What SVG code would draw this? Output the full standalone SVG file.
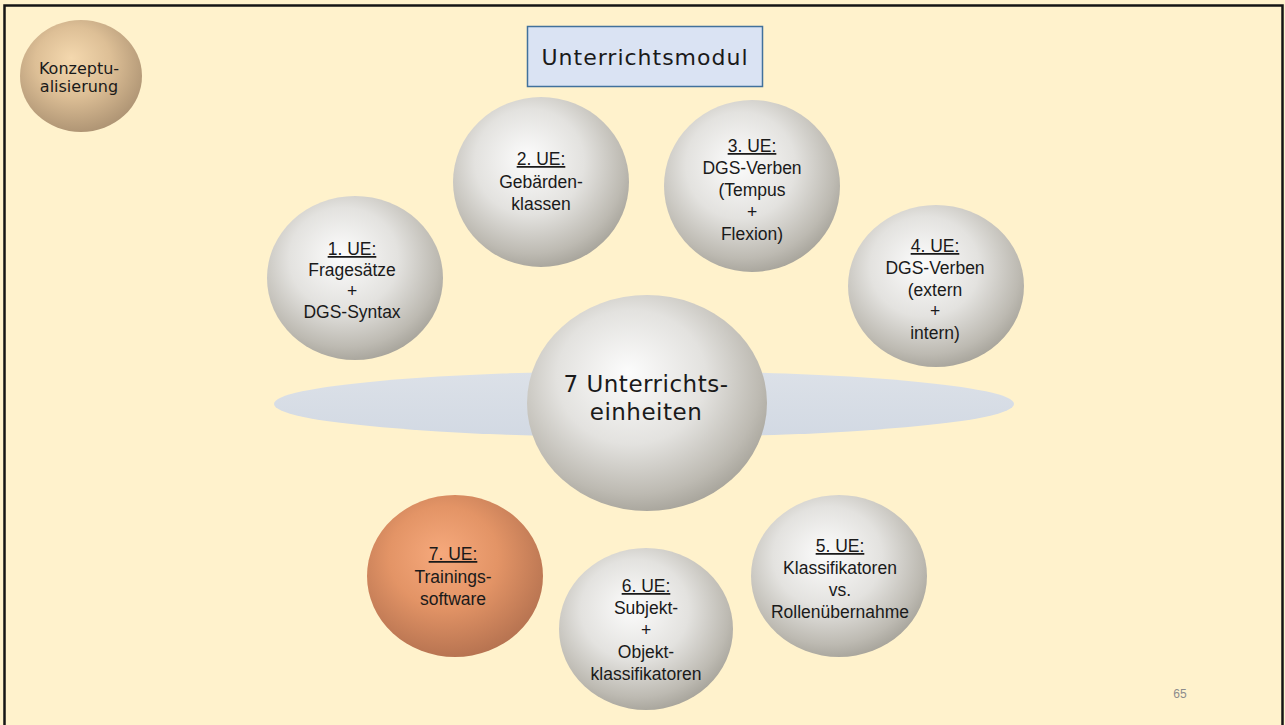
<svg xmlns="http://www.w3.org/2000/svg" width="1285" height="725" viewBox="0 0 1285 725">
  <defs>
    <radialGradient id="gGray" cx="45%" cy="40%" r="62%" fx="42%" fy="36%">
      <stop offset="0" stop-color="#FCFCFC"/>
      <stop offset="0.5" stop-color="#E3E2DF"/>
      <stop offset="0.85" stop-color="#BDBAB2"/>
      <stop offset="1" stop-color="#A6A39A"/>
    </radialGradient>
    <radialGradient id="gOrange" cx="45%" cy="40%" r="62%" fx="42%" fy="36%">
      <stop offset="0" stop-color="#F6A97C"/>
      <stop offset="0.5" stop-color="#E39466"/>
      <stop offset="1" stop-color="#B57250"/>
    </radialGradient>
    <radialGradient id="gTan" cx="45%" cy="40%" r="62%" fx="42%" fy="34%">
      <stop offset="0" stop-color="#F4D8AE"/>
      <stop offset="0.5" stop-color="#DDBF96"/>
      <stop offset="1" stop-color="#AD9373"/>
    </radialGradient>
    <linearGradient id="gDisc" x1="0" y1="0" x2="0" y2="1">
      <stop offset="0" stop-color="#DCE1E8"/>
      <stop offset="1" stop-color="#D2D9E3"/>
    </linearGradient>
  </defs>
  <style>
    .ue { font-family: "Liberation Sans", Arial, sans-serif; font-size: 17.5px; fill: #1A1A1A; text-anchor: middle; }
    .ue .h { text-decoration: underline; }
    .wide { font-family: "DejaVu Sans", Verdana, sans-serif; fill: #1A1A1A; text-anchor: middle; }
  </style>

  <!-- slide background and frame -->
  <rect x="0" y="0" width="1285" height="725" fill="#FFF2CC"/>
  <rect x="4.5" y="5.5" width="1278" height="730" fill="none" stroke="#151515" stroke-width="2.5"/>

  <!-- central disc -->
  <ellipse id="disc" cx="644" cy="404" rx="370" ry="33" fill="url(#gDisc)"/>

  <g id="konzeptualisierung">
    <ellipse cx="81" cy="76" rx="61" ry="56" fill="url(#gTan)"/>
    <text class="wide" font-size="16" x="79" y="74">Konzeptu-</text>
    <text class="wide" font-size="16" x="79" y="92">alisierung</text>
  </g>

  <g id="titel">
    <rect x="527.5" y="26.5" width="235" height="60" fill="#DAE3F3" stroke="#41719C" stroke-width="1.5"/>
    <text class="wide" font-size="22" letter-spacing="1" x="645" y="65">Unterrichtsmodul</text>
  </g>

  <g id="ue1">
    <ellipse cx="355" cy="278" rx="88" ry="82" fill="url(#gGray)"/>
    <text class="ue"><tspan class="h" x="352" y="255">1. UE:</tspan><tspan x="352" y="276">Fragesätze</tspan><tspan x="352" y="297">+</tspan><tspan x="352" y="318">DGS-Syntax</tspan></text>
  </g>

  <g id="ue2">
    <ellipse cx="541" cy="182" rx="88" ry="85" fill="url(#gGray)"/>
    <text class="ue"><tspan class="h" x="541" y="165">2. UE:</tspan><tspan x="541" y="188">Gebärden-</tspan><tspan x="541" y="210">klassen</tspan></text>
  </g>

  <g id="ue3">
    <ellipse cx="752" cy="186" rx="88" ry="86" fill="url(#gGray)"/>
    <text class="ue"><tspan class="h" x="752" y="152">3. UE:</tspan><tspan x="752" y="174">DGS-Verben</tspan><tspan x="752" y="196">(Tempus</tspan><tspan x="752" y="218">+</tspan><tspan x="752" y="240">Flexion)</tspan></text>
  </g>

  <g id="ue4">
    <ellipse cx="936" cy="286" rx="88" ry="81" fill="url(#gGray)"/>
    <text class="ue"><tspan class="h" x="935" y="252">4. UE:</tspan><tspan x="935" y="274">DGS-Verben</tspan><tspan x="935" y="296">(extern</tspan><tspan x="935" y="317">+</tspan><tspan x="935" y="339">intern)</tspan></text>
  </g>

  <g id="zentrum">
    <ellipse cx="647" cy="403" rx="120" ry="108" fill="url(#gGray)"/>
    <text class="wide" font-size="23" letter-spacing="0.5" x="646" y="392">7 Unterrichts-</text>
    <text class="wide" font-size="23" letter-spacing="0.5" x="646" y="420">einheiten</text>
  </g>

  <g id="ue5">
    <ellipse cx="839" cy="576" rx="88" ry="81" fill="url(#gGray)"/>
    <text class="ue"><tspan class="h" x="840" y="552">5. UE:</tspan><tspan x="840" y="574">Klassifikatoren</tspan><tspan x="840" y="596">vs.</tspan><tspan x="840" y="618">Rollenübernahme</tspan></text>
  </g>

  <g id="ue6">
    <ellipse cx="646" cy="629" rx="87" ry="81" fill="url(#gGray)"/>
    <text class="ue"><tspan class="h" x="646" y="592">6. UE:</tspan><tspan x="646" y="614">Subjekt-</tspan><tspan x="646" y="636">+</tspan><tspan x="646" y="658">Objekt-</tspan><tspan x="646" y="680">klassifikatoren</tspan></text>
  </g>

  <g id="ue7">
    <ellipse cx="455" cy="576" rx="88" ry="81" fill="url(#gOrange)"/>
    <text class="ue"><tspan class="h" x="453" y="560">7. UE:</tspan><tspan x="453" y="583">Trainings-</tspan><tspan x="453" y="605">software</tspan></text>
  </g>

  <text x="1180" y="698" font-family="Liberation Sans, Arial, sans-serif" font-size="12" fill="#8C8C8C" text-anchor="middle">65</text>
</svg>
